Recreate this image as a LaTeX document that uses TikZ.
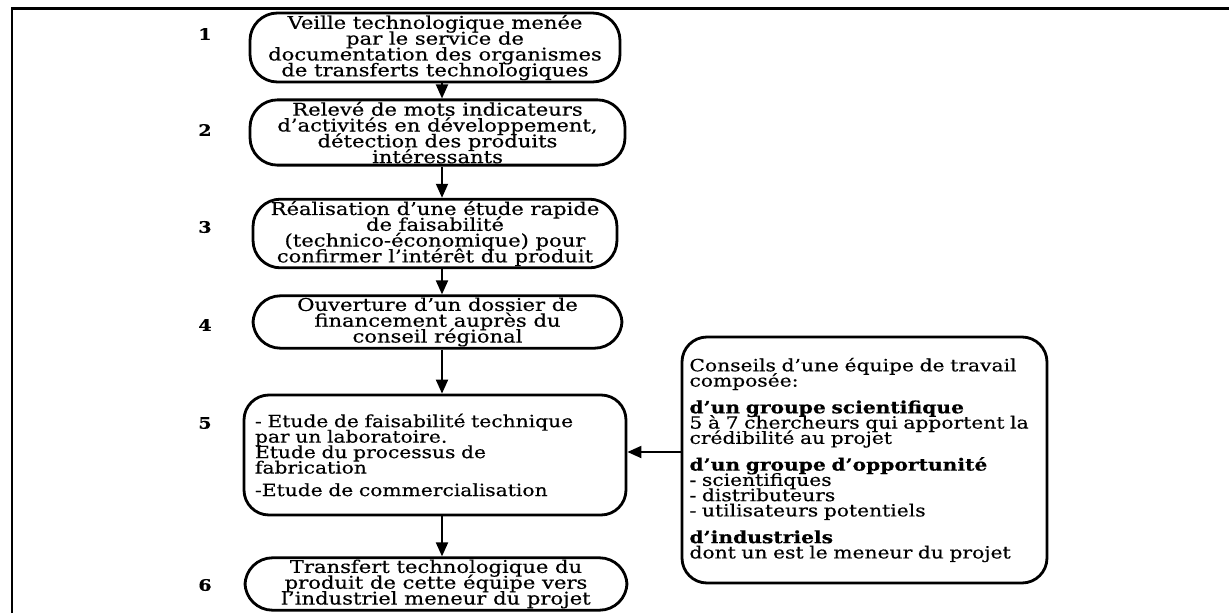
\documentclass[tikz,border=0pt]{standalone}
\usepackage{fontspec}
\setmainfont{DejaVu Serif}[FakeStretch=1.2, FakeBold=0.5]
\usetikzlibrary{arrows.meta, positioning, calc}
\setlength{\lineskiplimit}{-20pt}
\setlength{\normallineskiplimit}{-20pt}

\begin{document}
\begin{tikzpicture}[
    >={Triangle[length=0.28cm, width=0.24cm]},
    box/.style={draw, line width=1.6pt, rounded corners=0.55cm, align=center,
                font=\fontsize{10}{9}\selectfont, inner sep=1pt},
    textbox/.style={box, align=left, rounded corners=0.5cm, inner xsep=0.22cm,
                font=\fontsize{9.6}{8.8}\selectfont},
    num/.style={font=\bfseries\fontsize{9}{9}\selectfont},
    arr/.style={->, line width=1.1pt},
    frame/.style={line width=1.7pt},
]
\useasboundingbox (0,0) rectangle (24.58,-12.26);
% === Outer frame ===
\draw[frame] (0.24,-12.26) -- (0.24,-0.17) -- (24.58,-0.17);
% === Steps (main column) ===
\node[box, minimum width=7.4cm, minimum height=1.38cm] (veille) at (8.70,-0.95)
    {Veille technologique menée\\par le service de\\documentation des organismes\\de transferts technologiques};
\node[box, minimum width=7.5cm, minimum height=1.3cm] (releve) at (8.75,-2.65)
    {Relevé de mots indicateurs\\d'activités en développement,\\détection des produits\\intéressants};
\node[box, minimum width=7.28cm, minimum height=1.34cm] (etude) at (8.70,-4.67)
    {Réalisation d'une étude rapide\\de faisabilité\\(technico-économique) pour\\confirmer l'intérêt du produit};
\node[box, minimum width=7.38cm, minimum height=1.0cm] (dossier) at (8.75,-6.44)
    {Ouverture d'un dossier de\\financement auprès du\\conseil régional};
\node[textbox, text width=7.2cm, minimum height=2.4cm] (faisab) at (8.70,-9.10)
    {- Etude de faisabilité technique\\par un laboratoire.\\Etude du processus de\\fabrication\\[4pt]-Etude de commercialisation};
\node[box, minimum width=7.64cm, minimum height=1.04cm] (transfert) at (8.72,-11.68)
    {Transfert technologique du\\produit de cette équipe vers\\l'industriel meneur du projet};
% === Step numbers ===
\node[num] (n1) at (4.10,-0.68) {1};
\node[num] (n2) at (4.10,-2.60) {2};
\node[num] (n3) at (4.10,-4.54) {3};
\node[num] (n4) at (4.10,-6.50) {4};
\node[num] (n5) at (4.10,-8.46) {5};
\node[num] (n6) at (4.10,-11.70) {6};
% === Working team (right) ===
\node[textbox, text width=7.0cm, minimum height=4.92cm, inner xsep=0.15cm,
      font=\fontsize{9.6}{8.7}\selectfont] (team) at (17.29,-9.20)
    {Conseils d'une équipe de travail\\composée:\\[6.5pt]
     \textbf{d'un groupe scientifique}\\5 à 7 chercheurs qui apportent la\\crédibilité au projet\\[6.5pt]
     \textbf{d'un groupe d'opportunité}\\- scientifiques\\- distributeurs\\- utilisateurs potentiels\\[6.5pt]
     \textbf{d'industriels}\\dont un est le meneur du projet};
% Arrows
\coordinate (spine) at (8.84,0);
\draw[arr] (veille.south -| spine) -- (releve.north -| spine);
\draw[arr] (releve.south -| spine) -- (etude.north -| spine);
\draw[arr] (etude.south -| spine) -- (dossier.north -| spine);
\draw[arr] (dossier.south -| spine) -- (faisab.north -| spine);
\draw[arr] (faisab.south -| spine) -- (transfert.north -| spine);
\draw[arr] ([yshift=0.16cm]team.west) -- ([yshift=0.16cm]team.west -| faisab.east);
\end{tikzpicture}
\end{document}
